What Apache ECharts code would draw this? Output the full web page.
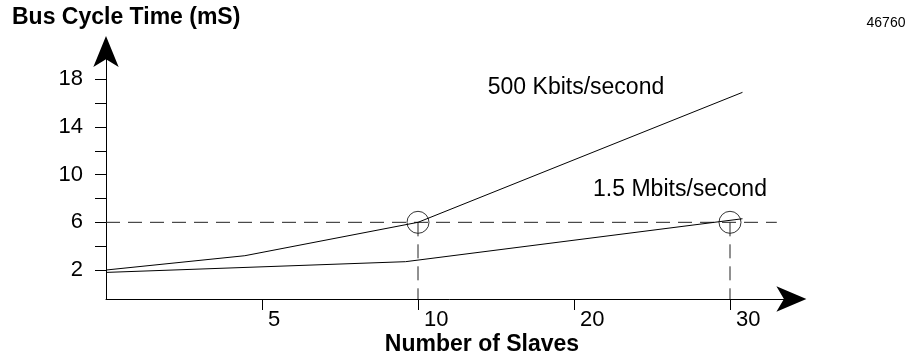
<!DOCTYPE html>
<html>
<head>
<meta charset="utf-8">
<script src="https://cdn.jsdelivr.net/npm/echarts@6/dist/echarts.min.js"></script>
<style>
  html, body { margin: 0; padding: 0; background: #fff; }
  #chart { width: 914px; height: 358px; }
</style>
</head>
<body>
<div id="chart"></div>
<script>
// ---- data ----
const slaveBreaks = [0, 5, 10, 20, 30];          // x-axis break points (equally spaced on the drawing)
const slaveTickLabels = [5, 10, 20, 30];
const yTickValues = [2, 4, 6, 8, 10, 12, 14, 16, 18];
const yTickLabels = [2, 6, 10, 14, 18];

const slaves500 = [0, 4.45, 10, 30.8];
const time500   = [2.0, 3.2, 6.0, 16.9];

const slaves15  = [0, 9.6, 30.8];
const time15    = [1.8, 2.7, 6.3];

const markSlaves = [10, 30];
const markTime   = [6, 6];

const refTime = 6;
const refLineSlaves = [0, 33];

const seriesNames = ['500 Kbits/second', '1.5 Mbits/second'];

// ---- axis scale: piecewise (ordinal-like) slave axis ----
function toAxis(s) {
  for (let i = 0; i < slaveBreaks.length - 1; i++) {
    const a = slaveBreaks[i], b = slaveBreaks[i + 1];
    if (s <= b || i === slaveBreaks.length - 2) {
      return i + (s - a) / (b - a);
    }
  }
}
const pairs = (xs, ys) => xs.map((x, i) => [toAxis(x), ys[i]]);

const FONT = 'Liberation Sans, Arial, Helvetica, sans-serif';
const chart = echarts.init(document.getElementById('chart'));

const yMin = -0.43;
const vertDash = markSlaves.map(s => ({
  type: 'line', silent: true, symbol: 'none', animation: false,
  lineStyle: { color: '#222', width: 1, type: [14, 8] },
  data: [[toAxis(s), refTime], [toAxis(s), yMin]]
}));

chart.setOption({
  animation: false,
  backgroundColor: '#fff',
  grid: { left: 106, top: 53, width: 686.4, height: 246 },
  xAxis: {
    type: 'value', min: 0, max: 4.4,
    splitLine: { show: false },
    axisLine: {
      onZero: false,
      lineStyle: { color: '#000', width: 1 },
      symbol: ['none', 'arrow'], symbolSize: [19, 30], symbolOffset: [0, 14]
    },
    axisTick: {
      show: true, inside: false, length: 11,
      customValues: slaveTickLabels.map(toAxis),
      lineStyle: { color: '#000', width: 1 }
    },
    axisLabel: {
      customValues: slaveTickLabels.map(toAxis),
      formatter: v => {
        const idx = slaveTickLabels.map(toAxis).findIndex(u => Math.abs(u - v) < 1e-6);
        return idx >= 0 ? String(slaveTickLabels[idx]) : '';
      },
      color: '#000', fontFamily: FONT, fontSize: 22,
      align: 'left', padding: [0, 0, 0, 6], margin: 10
    }
  },
  yAxis: {
    type: 'value', min: yMin, max: 20.2,
    splitLine: { show: false },
    axisLine: {
      show: true, onZero: false,
      lineStyle: { color: '#000', width: 1 },
      symbol: ['none', 'arrow'], symbolSize: [19, 31], symbolOffset: [0, 17]
    },
    axisTick: {
      show: true, inside: false, length: 11,
      customValues: yTickValues,
      lineStyle: { color: '#000', width: 1 }
    },
    axisLabel: {
      customValues: yTickLabels,
      color: '#000', fontFamily: FONT, fontSize: 22, margin: 23
    }
  },
  series: [
    {
      name: 'ref', type: 'line', silent: true, symbol: 'none',
      lineStyle: { color: '#222', width: 1, type: [14, 8] },
      data: refLineSlaves.map(s => [toAxis(s), refTime])
    },
    ...vertDash,
    {
      name: seriesNames[0], type: 'line', silent: true, symbol: 'none',
      lineStyle: { color: '#000', width: 1 },
      data: pairs(slaves500, time500)
    },
    {
      name: seriesNames[1], type: 'line', silent: true, symbol: 'none',
      lineStyle: { color: '#000', width: 1 },
      data: pairs(slaves15, time15)
    },
    {
      type: 'scatter', silent: true, symbol: 'circle', symbolSize: 22,
      itemStyle: { color: 'rgba(0,0,0,0)', borderColor: '#000', borderWidth: 1 },
      data: pairs(markSlaves, markTime)
    }
  ],
  graphic: [
    { type: 'text', x: 12, y: 18, silent: true,
      style: { text: 'Bus Cycle Time (mS)', fill: '#000', font: 'bold 23px ' + FONT, align: 'left', verticalAlign: 'middle' } },
    { type: 'text', x: 482, y: 345, silent: true,
      style: { text: 'Number of Slaves', fill: '#000', font: 'bold 23px ' + FONT, align: 'center', verticalAlign: 'middle' } },
    { type: 'text', x: 886, y: 23, silent: true,
      style: { text: '46760', fill: '#000', font: '14px ' + FONT, align: 'center', verticalAlign: 'middle' } },
    { type: 'text', x: 576, y: 88, silent: true,
      style: { text: seriesNames[0], fill: '#000', font: '23px ' + FONT, align: 'center', verticalAlign: 'middle' } },
    { type: 'text', x: 680, y: 190, silent: true,
      style: { text: seriesNames[1], fill: '#000', font: '23px ' + FONT, align: 'center', verticalAlign: 'middle' } }
  ]
});
</script>
</body>
</html>
